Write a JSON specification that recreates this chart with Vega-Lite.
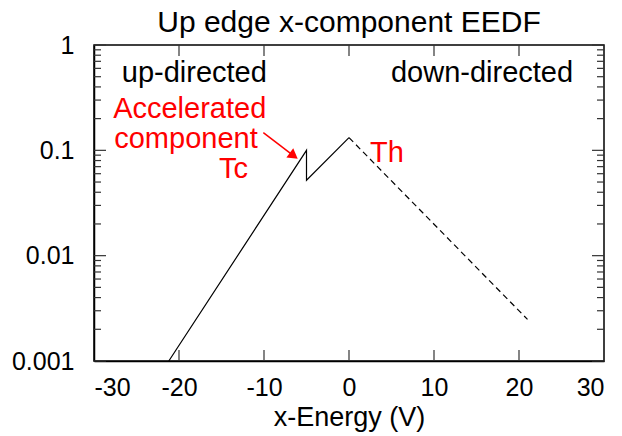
{
  "$schema": "https://vega.github.io/schema/vega-lite/v6.json",
  "width": 510,
  "height": 316,
  "autosize": "none",
  "padding": {"left": 94, "top": 45, "right": 18, "bottom": 75},
  "background": "white",
  "title": {"text": "Up edge x-component EEDF", "fontSize": 30, "font": "Liberation Sans", "fontWeight": "normal", "color": "black", "anchor": "middle", "frame": "group", "offset": -5},
  "config": {
    "view": {"stroke": "black", "strokeWidth": 1.5},
    "axis": {"domainColor": "black", "domainWidth": 1.5, "labelFont": "Liberation Sans", "labelFontSize": 25, "labelColor": "black", "titleFont": "Liberation Sans", "titleFontSize": 27, "titleFontWeight": "normal", "titleColor": "black", "grid": false},
    "text": {"font": "Liberation Sans"}
  },
  "datasets": {
    "solid": [
      {"x": -21.2, "y": 0.001},
      {"x": -5, "y": 0.1},
      {"x": -5, "y": 0.052},
      {"x": 0, "y": 0.132}
    ],
    "dashed": [
      {"x": 0, "y": 0.132},
      {"x": 21, "y": 0.00248}
    ],
    "blacktext": [
      {"x": -18.2, "y": 0.442, "label": "up-directed"},
      {"x": 15.65, "y": 0.442, "label": "down-directed"}
    ],
    "redtext": [
      {"x": -18.74, "y": 0.201, "label": "Accelerated"},
      {"x": -19.18, "y": 0.1045, "label": "component"},
      {"x": -13.6, "y": 0.0542, "label": "Tc"},
      {"x": 4.47, "y": 0.078, "label": "Th"}
    ],
    "arrow": [
      {"x": -10.08, "y": 0.147, "x2": -6.5, "y2": 0.0887}
    ],
    "head": [
      {"x": -6.5, "y": 0.0887}
    ],
    "ymajor": [{"v": 0.001}, {"v": 0.01}, {"v": 0.1}, {"v": 1}],
    "yminor": [{"v": 0.002}, {"v": 0.003}, {"v": 0.004}, {"v": 0.005}, {"v": 0.006}, {"v": 0.007}, {"v": 0.008}, {"v": 0.009},
               {"v": 0.02}, {"v": 0.03}, {"v": 0.04}, {"v": 0.05}, {"v": 0.06}, {"v": 0.07}, {"v": 0.08}, {"v": 0.09},
               {"v": 0.2}, {"v": 0.3}, {"v": 0.4}, {"v": 0.5}, {"v": 0.6}, {"v": 0.7}, {"v": 0.8}, {"v": 0.9}],
    "xmajor": [{"v": -20}, {"v": -10}, {"v": 0}, {"v": 10}, {"v": 20}]
  },
  "layer": [
    {
      "data": {"name": "solid"},
      "mark": {"type": "line", "color": "black", "strokeWidth": 1.2},
      "encoding": {
        "x": {"field": "x", "type": "quantitative", "scale": {"domain": [-30, 30], "nice": false},
              "axis": {"orient": "bottom", "values": [-30, -20, -10, 0, 10, 20, 30], "ticks": false, "tickSize": 0, "labelPadding": 14, "labelExpr": "toString(datum.value)", "title": "x-Energy (V)", "titlePadding": 4}},
        "y": {"field": "y", "type": "quantitative", "scale": {"type": "log", "domain": [0.001, 1], "nice": false},
              "axis": {"orient": "left", "values": [0.001, 0.01, 0.1, 1], "labelExpr": "toString(datum.value)",
                       "ticks": false, "tickSize": 0, "labelPadding": 20, "title": null}}
      }
    },
    {
      "data": {"name": "dashed"},
      "mark": {"type": "line", "color": "black", "strokeWidth": 1.2, "strokeDash": [6, 4]},
      "encoding": {
        "x": {"field": "x", "type": "quantitative", "axis": null},
        "y": {"field": "y", "type": "quantitative", "axis": null}
      }
    },
    {
      "data": {"name": "ymajor"},
      "mark": {"type": "tick", "orient": "horizontal", "size": 12, "thickness": 1.2, "color": "#333333", "opacity": 1, "xOffset": 6},
      "encoding": {
        "x": {"datum": -30, "type": "quantitative", "axis": null},
        "y": {"field": "v", "type": "quantitative", "axis": null}
      }
    },
    {
      "data": {"name": "ymajor"},
      "mark": {"type": "tick", "orient": "horizontal", "size": 12, "thickness": 1.2, "color": "#333333", "opacity": 1, "xOffset": -6},
      "encoding": {
        "x": {"datum": 30, "type": "quantitative", "axis": null},
        "y": {"field": "v", "type": "quantitative", "axis": null}
      }
    },
    {
      "data": {"name": "yminor"},
      "mark": {"type": "tick", "orient": "horizontal", "size": 7, "thickness": 1.2, "color": "#333333", "opacity": 1, "xOffset": 3.5},
      "encoding": {
        "x": {"datum": -30, "type": "quantitative", "axis": null},
        "y": {"field": "v", "type": "quantitative", "axis": null}
      }
    },
    {
      "data": {"name": "yminor"},
      "mark": {"type": "tick", "orient": "horizontal", "size": 7, "thickness": 1.2, "color": "#333333", "opacity": 1, "xOffset": -3.5},
      "encoding": {
        "x": {"datum": 30, "type": "quantitative", "axis": null},
        "y": {"field": "v", "type": "quantitative", "axis": null}
      }
    },
    {
      "data": {"name": "xmajor"},
      "mark": {"type": "tick", "orient": "vertical", "size": 11, "thickness": 1.2, "color": "#333333", "opacity": 1, "yOffset": -5.5},
      "encoding": {
        "x": {"field": "v", "type": "quantitative", "axis": null},
        "y": {"datum": 0.001, "type": "quantitative", "axis": null}
      }
    },
    {
      "data": {"name": "xmajor"},
      "mark": {"type": "tick", "orient": "vertical", "size": 11, "thickness": 1.2, "color": "#333333", "opacity": 1, "yOffset": 5.5},
      "encoding": {
        "x": {"field": "v", "type": "quantitative", "axis": null},
        "y": {"datum": 1, "type": "quantitative", "axis": null}
      }
    },
    {
      "data": {"name": "blacktext"},
      "mark": {"type": "text", "fontSize": 29, "color": "black", "align": "center", "baseline": "alphabetic"},
      "encoding": {
        "x": {"field": "x", "type": "quantitative", "axis": null},
        "y": {"field": "y", "type": "quantitative", "axis": null},
        "text": {"field": "label"}
      }
    },
    {
      "data": {"name": "redtext"},
      "mark": {"type": "text", "fontSize": 29, "color": "#ff0000", "align": "center", "baseline": "alphabetic"},
      "encoding": {
        "x": {"field": "x", "type": "quantitative", "axis": null},
        "y": {"field": "y", "type": "quantitative", "axis": null},
        "text": {"field": "label"}
      }
    },
    {
      "mark": {"type": "rule", "color": "#777777", "strokeWidth": 1.5, "strokeDash": [3, 4]},
      "encoding": {"x": {"datum": 0, "type": "quantitative", "axis": null}}
    },
    {
      "data": {"name": "arrow"},
      "mark": {"type": "rule", "color": "#ff0000", "strokeWidth": 1.5},
      "encoding": {
        "x": {"field": "x", "type": "quantitative", "axis": null},
        "y": {"field": "y", "type": "quantitative", "axis": null},
        "x2": {"field": "x2"},
        "y2": {"field": "y2"}
      }
    },
    {
      "data": {"name": "head"},
      "mark": {"type": "point", "shape": "triangle-right", "filled": true, "color": "#ff0000", "size": 130, "angle": 37, "opacity": 1},
      "encoding": {
        "x": {"field": "x", "type": "quantitative", "axis": null},
        "y": {"field": "y", "type": "quantitative", "axis": null}
      }
    }
  ],
  "resolve": {"axis": {"x": "independent", "y": "independent"}}
}
